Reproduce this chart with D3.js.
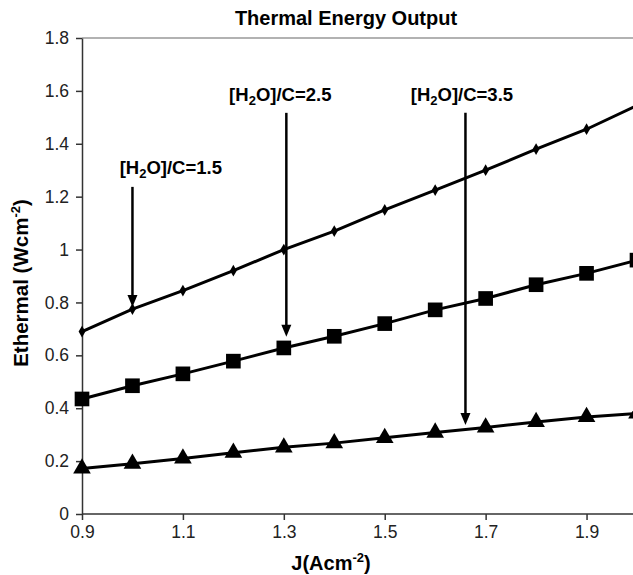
<!DOCTYPE html>
<html>
<head>
<meta charset="utf-8">
<script src="https://d3js.org/d3.v7.min.js"></script>
<style>
  body { margin: 0; background: #fff; }
  text { font-family: "Liberation Sans", Arial, sans-serif; }
</style>
</head>
<body>
<svg id="chart" width="633" height="575"></svg>
<script>
// data
const J = [0.9, 1.0, 1.1, 1.2, 1.3, 1.4, 1.5, 1.6, 1.7, 1.8, 1.9, 2.0];
const ratio15 = [0.69, 0.775, 0.845, 0.92, 1.0, 1.07, 1.15, 1.225, 1.3, 1.38, 1.455, 1.545];
const ratio25 = [0.435, 0.485, 0.53, 0.578, 0.628, 0.672, 0.72, 0.772, 0.815, 0.867, 0.91, 0.96];
const ratio35 = [0.172, 0.19, 0.21, 0.232, 0.252, 0.268, 0.288, 0.308, 0.327, 0.348, 0.367, 0.38];
const xTicks = [0.9, 1.1, 1.3, 1.5, 1.7, 1.9];
const yTicks = [0, 0.2, 0.4, 0.6, 0.8, 1, 1.2, 1.4, 1.6, 1.8];

// arrows: x position, start and tip (in data units), label anchor
const notes = [
  {ratio: "1.5", x: 1.0,   y0: 1.237, y1: 0.783, lx: 1.076, ly: 1.285},
  {ratio: "2.5", x: 1.305, y0: 1.517, y1: 0.67,  lx: 1.293, ly: 1.56},
  {ratio: "3.5", x: 1.66,  y0: 1.517, y1: 0.337, lx: 1.653, ly: 1.56}
];

const svg = d3.select("#chart");
const x = d3.scaleLinear().domain([0.9, 2.0]).range([82, 637]);
const y = d3.scaleLinear().domain([0, 1.8]).range([514, 38]);

// title
svg.append("text").attr("x", 346).attr("y", 25)
  .attr("text-anchor", "middle").style("font-size", "20px").style("font-weight", "bold")
  .text("Thermal Energy Output");

// top frame line
svg.append("line").attr("x1", x(0.9)).attr("x2", 633)
  .attr("y1", y(1.8)).attr("y2", y(1.8)).attr("stroke", "#999").attr("stroke-width", 1.5);

// axes
const yAxis = svg.append("g").attr("transform", `translate(${x(0.9)},0)`)
  .call(d3.axisLeft(y).tickValues(yTicks).tickSize(6).tickSizeOuter(0).tickPadding(7)
    .tickFormat(d => d3.format("~g")(d)));
const xAxis = svg.append("g").attr("transform", `translate(0,${y(0)})`)
  .call(d3.axisBottom(x).tickValues(xTicks).tickSize(6).tickSizeOuter(0).tickPadding(6)
    .tickFormat(d3.format(".1f")));
[yAxis, xAxis].forEach(a => {
  a.select(".domain").attr("stroke", "#333").attr("stroke-width", 1.5);
  a.selectAll(".tick line").attr("stroke", "#333").attr("stroke-width", 1.5);
  a.selectAll(".tick text").style("font-size", "17.5px").attr("fill", "#222")
    .style("font-family", "'Liberation Sans', Arial, sans-serif");
});
xAxis.select(".domain").attr("d", `M${x(0.9)},0H633`);

// axis titles
const xt = svg.append("text").attr("x", 331).attr("y", 570)
  .attr("text-anchor", "middle").style("font-size", "20px").style("font-weight", "bold");
xt.append("tspan").text("J(Acm");
xt.append("tspan").attr("dy", -8).style("font-size", "13px").text("-2");
xt.append("tspan").attr("dy", 8).text(")");

const yt = svg.append("text").attr("transform", "translate(28,283) rotate(-90)")
  .attr("text-anchor", "middle").style("font-size", "20.5px").style("font-weight", "bold");
yt.append("tspan").text("Ethermal (Wcm");
yt.append("tspan").attr("dy", -8).style("font-size", "13px").text("-2");
yt.append("tspan").attr("dy", 8).text(")");

// series
const series = [
  {vals: ratio15, shape: d3.symbolDiamond, size: 40},
  {vals: ratio25, shape: d3.symbolSquare, size: 215},
  {vals: ratio35, shape: d3.symbolTriangle, size: 135}
];
const line = d3.line().x((d, i) => x(J[i])).y(d => y(d));
series.forEach(s => {
  svg.append("path").datum(s.vals).attr("d", line)
    .attr("fill", "none").attr("stroke", "#000").attr("stroke-width", 3);
  svg.selectAll(null).data(s.vals).enter().append("path")
    .attr("transform", (d, i) => `translate(${x(J[i])},${y(d)})`)
    .attr("d", d3.symbol().type(s.shape).size(s.size)())
    .attr("fill", "#000");
});

// arrows and labels
notes.forEach(n => {
  const ax = x(n.x), tip = y(n.y1);
  svg.append("line").attr("x1", ax).attr("x2", ax)
    .attr("y1", y(n.y0)).attr("y2", tip - 8)
    .attr("stroke", "#000").attr("stroke-width", 2.5);
  svg.append("path")
    .attr("d", `M${ax - 5},${tip - 12}L${ax + 5},${tip - 12}L${ax},${tip}Z`)
    .attr("fill", "#000");
  const t = svg.append("text").attr("x", x(n.lx)).attr("y", y(n.ly))
    .attr("text-anchor", "middle").style("font-size", "18.5px").style("font-weight", "bold");
  t.append("tspan").text("[H");
  t.append("tspan").attr("dy", 4).style("font-size", "13px").text("2");
  t.append("tspan").attr("dy", -4).text("O]/C=" + n.ratio);
});
</script>
</body>
</html>
